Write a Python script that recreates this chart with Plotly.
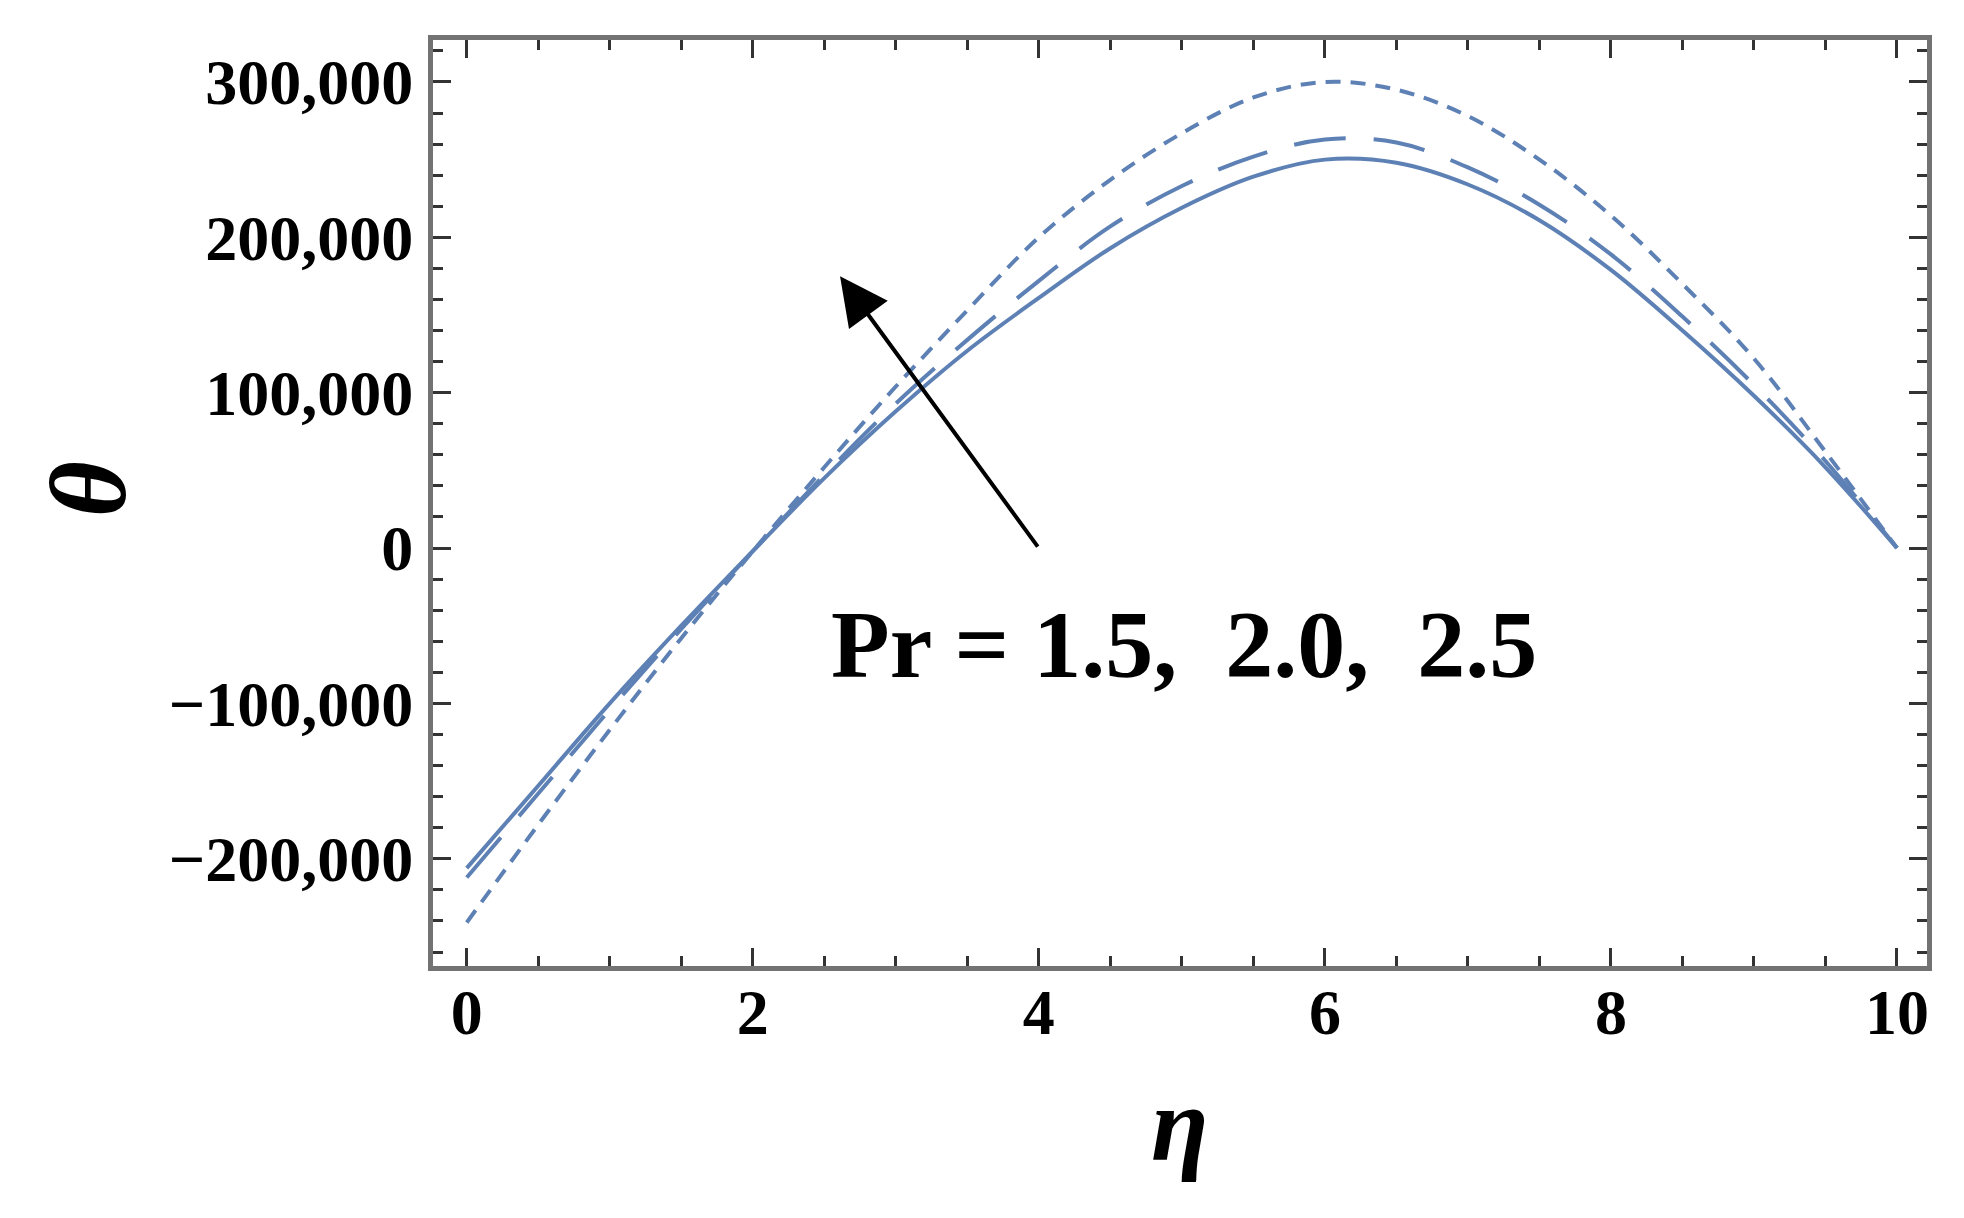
import plotly.graph_objects as go

# eta grid and theta profiles
eta = [0, 0.5, 1, 1.5, 2, 2.5, 3, 3.5, 4, 4.5, 5, 5.5, 6, 6.5, 7, 7.5, 8, 8.5, 9, 9.5, 10]

theta_pr15 = [-206000, -153000, -100000, -50000, -2000, 45000, 88000, 127000, 161000, 193000,
              219000, 239000, 250000, 248000, 234000, 211000, 179000, 140000, 98000, 52000, 0]
theta_pr20 = [-212000, -158000, -104000, -52000, -2000, 47000, 93000, 134000, 172000, 207000,
              233000, 252000, 263000, 261000, 245000, 221000, 189000, 149000, 105000, 56000, 0]
theta_pr25 = [-241000, -178000, -117000, -58000, -2000, 52000, 104000, 153000, 200000, 237000,
              267000, 290000, 300000, 295000, 278000, 250000, 214000, 170000, 122000, 62000, 0]

x_ticks = [0, 2, 4, 6, 8, 10]
y_ticks = [-200000, -100000, 0, 100000, 200000, 300000]

line_color = "#5E81B5"
serif = "Liberation Serif"

fig = go.Figure()

fig.add_trace(go.Scatter(x=eta, y=theta_pr15, mode="lines", name="Pr = 1.5",
                         line=dict(color=line_color, width=4, shape="spline")))
fig.add_trace(go.Scatter(x=eta, y=theta_pr20, mode="lines", name="Pr = 2.0",
                         line=dict(color=line_color, width=4, shape="spline", dash="52px,28px")))
fig.add_trace(go.Scatter(x=eta, y=theta_pr25, mode="lines", name="Pr = 2.5",
                         line=dict(color=line_color, width=4, shape="spline", dash="15px,10px")))

axis_common = dict(
    showline=True, mirror="allticks", linecolor="#737373", linewidth=5,
    ticks="inside", ticklen=18, tickwidth=3, tickcolor="#333333",
    showgrid=False, zeroline=False,
    tickfont=dict(family=serif, size=64, color="black", weight="bold"),
)

fig.update_xaxes(range=[-0.236, 10.21], tickvals=x_ticks, ticklabelstandoff=-14,
                 minor=dict(dtick=0.5, ticks="inside", ticklen=10, tickwidth=3, tickcolor="#333333"),
                 **axis_common)
fig.update_yaxes(range=[-269000, 327000], tickvals=y_ticks, tickformat=",d", ticklabelstandoff=2,
                 minor=dict(dtick=20000, ticks="inside", ticklen=10, tickwidth=3, tickcolor="#333333"),
                 **axis_common)

# axis titles
fig.add_annotation(text="<b><i>θ</i></b>", xref="paper", yref="paper", x=-0.272, y=0.515,
                   showarrow=False, textangle=-90,
                   font=dict(family=serif, size=108, color="black"))
fig.add_annotation(text="<b><i>η</i></b>", xref="paper", yref="paper", x=0.5, y=-0.235,
                   showarrow=False, font=dict(family=serif, size=105, color="black"))

# arrow showing increasing Pr
fig.add_annotation(x=2.61, y=175000, ax=4.0, ay=0, xref="x", yref="y", axref="x", ayref="y",
                   text="", showarrow=True, arrowhead=2, arrowsize=2.4, arrowwidth=4,
                   arrowcolor="black")
fig.add_annotation(text="<b>Pr = 1.5,&nbsp; 2.0,&nbsp; 2.5</b>", x=2.53, y=-62000,
                   xref="x", yref="y", xanchor="left", yanchor="middle", showarrow=False,
                   font=dict(family=serif, size=96, color="black"))

fig.update_layout(
    width=1964, height=1218,
    margin=dict(l=425, r=45, t=32, b=260),
    plot_bgcolor="white", paper_bgcolor="white",
    showlegend=False,
)

fig.write_html("out.html")
